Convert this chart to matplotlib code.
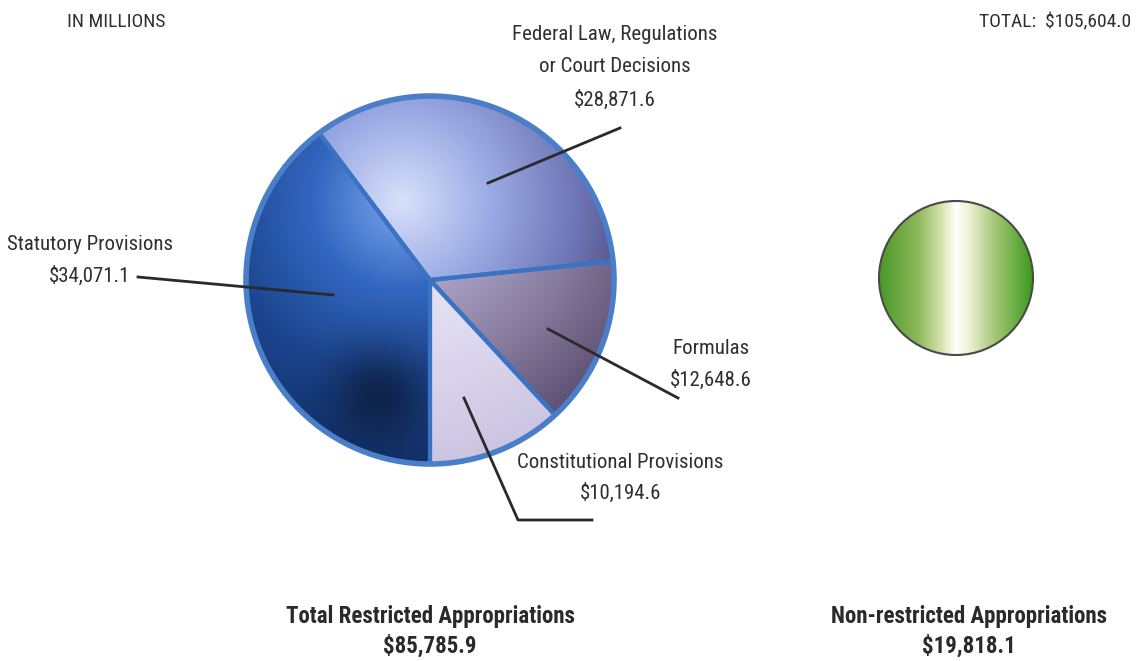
import matplotlib
matplotlib.use('Agg')
import matplotlib.pyplot as plt
import numpy as np
from matplotlib.colors import LinearSegmentedColormap
from matplotlib.patches import Circle

W, H = 1139, 661

# values in millions
categories = ['Statutory Provisions', 'Federal Law, Regulations\nor Court Decisions',
              'Formulas', 'Constitutional Provisions']
amounts = [34071.1, 28871.6, 12648.6, 10194.6]
restricted_total = 85785.9
non_restricted = 19818.1
grand_total = 105604.0

# shading ramps per slice, from the highlight to the far side
slice_ramps = [
    ['#7ba6ec', '#3367c0', '#1c4690', '#12306a'],
    ['#d8e0fb', '#9aaae4', '#6e74b4', '#3e3a64'],
    ['#c6c2e0', '#a89fc4', '#857a9c', '#5c4e70'],
    ['#f3f1fb', '#e6e2f3', '#dad4ec', '#ccc5e2'],
]
green_ramp = ['#4a9828', '#8cb85a', '#d4e2a8', '#ffffff', '#eef3d8', '#a6c878', '#3a9a1c']
green_stops = [0.0, 0.25, 0.4, 0.5, 0.58, 0.75, 1.0]

FONT = ['Roboto Condensed', 'DejaVu Sans']
TXT = '#2e2e34'


def fmt(v):
    return '${:,.1f}'.format(v)


fig = plt.figure(figsize=(W / 100, H / 100), dpi=100)
ax = fig.add_axes([0, 0, 1, 1])

cx, cy, r = 430, H - 280, 184
wedges, _ = ax.pie(amounts, startangle=270, counterclock=False,
                   center=(cx, cy), radius=r, frame=True)

# lighting over the disk: highlight upper left of centre
n = 500
g = np.linspace(-1, 1, n)
U, V = np.meshgrid(g, g)
d = np.hypot(U + 0.15, V - 0.43)
t = np.clip(d / 1.45, 0, 1)
spot = np.exp(-((U + 0.28) ** 2 + (V + 0.62) ** 2) / 0.07)

for i, w in enumerate(wedges):
    cmap = LinearSegmentedColormap.from_list('s%d' % i, slice_ramps[i])
    rgb = cmap(t)[..., :3]
    if i == 0:
        rgb = rgb * (1 - 0.45 * spot[..., None])
    im = ax.imshow(rgb, extent=(cx - r, cx + r, cy - r, cy + r), origin='lower',
                   interpolation='bilinear', zorder=1)
    im.set_clip_path(w)
    w.set_facecolor('none')
    w.set_edgecolor('#3a72c4')
    w.set_linewidth(3)
    w.set_zorder(2)

ax.add_patch(Circle((cx, cy), r, facecolor='none', edgecolor='#4a7ec8', lw=4, zorder=2))

# non-restricted disk with vertical sheen
gcx, gcy, gr = 956, H - 278, 77
gmap = LinearSegmentedColormap.from_list('green', list(zip(green_stops, green_ramp)))
band = gmap(np.linspace(0, 1, 400))[None, :, :3].repeat(50, axis=0)
gdisk = Circle((gcx, gcy), gr, facecolor='none', edgecolor='#4a4a4a', lw=1.5, zorder=2)
ax.add_patch(gdisk)
gim = ax.imshow(band, extent=(gcx - gr, gcx + gr, gcy - gr, gcy + gr), origin='lower',
                interpolation='bilinear', aspect='auto', zorder=1)
gim.set_clip_path(gdisk)

# leader lines
lc = '#2a2a2e'
ax.plot([138, 333], [H - 277, H - 295], color=lc, lw=2, zorder=3)
ax.plot([488, 620], [H - 183, H - 128], color=lc, lw=2, zorder=3)
ax.plot([548, 678], [H - 329, H - 398], color=lc, lw=2, zorder=3)
ax.plot([464, 518, 592], [H - 398, H - 520, H - 520], color=lc, lw=2, zorder=3)

# slice labels
kw = dict(family=FONT, fontsize=15, color=TXT, ha='center', va='center', zorder=4)
ax.text(90, H - 244, categories[0], **kw)
ax.text(90, H - 276, fmt(amounts[0]), **kw)
for k, line in enumerate(categories[1].split('\n')):
    ax.text(615, H - 34 - 33 * k, line, **kw)
ax.text(615, H - 100, fmt(amounts[1]), **kw)
ax.text(711, H - 348, categories[2], **kw)
ax.text(711, H - 380, fmt(amounts[2]), **kw)
ax.text(620, H - 463, categories[3], **kw)
ax.text(621, H - 493, fmt(amounts[3]), **kw)

ax.text(67, H - 22, 'IN MILLIONS', family=FONT, fontsize=14, color=TXT, ha='left', va='center')
ax.text(1131, H - 22, 'TOTAL:  ' + fmt(grand_total), family=FONT, fontsize=14, color=TXT,
        ha='right', va='center')

bkw = dict(family=FONT, fontsize=16.5, fontweight='bold', color='#2a2a2e', ha='center', va='center')
ax.text(430, H - 616, 'Total Restricted Appropriations', **bkw)
ax.text(430, H - 646, fmt(restricted_total), **bkw)
ax.text(969, H - 616, 'Non-restricted Appropriations', **bkw)
ax.text(969, H - 646, fmt(non_restricted), **bkw)

ax.set_xlim(0, W)
ax.set_ylim(0, H)
ax.set_aspect('auto')
ax.axis('off')

fig.savefig('out.png', dpi=100, facecolor='white')
